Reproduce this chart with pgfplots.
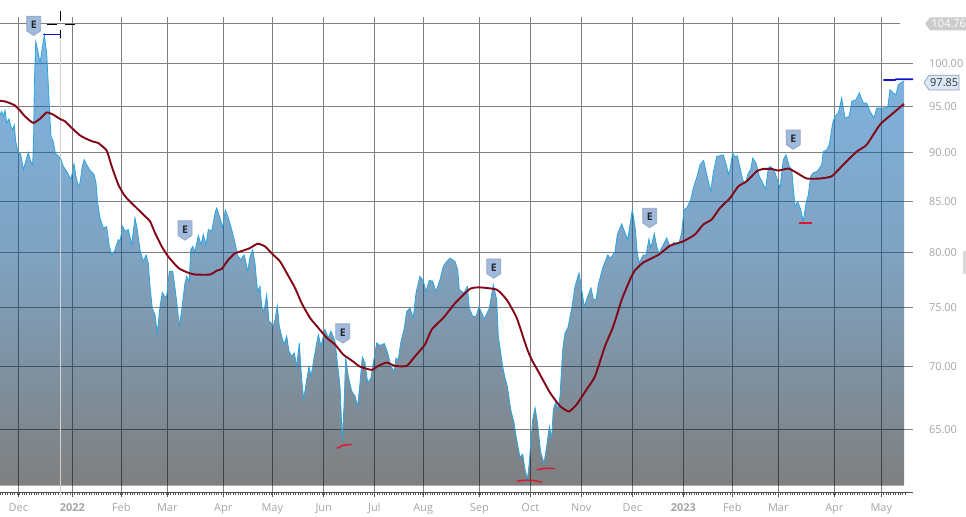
\documentclass[border=0pt]{standalone}
\usepackage{pgfplots}
\usepackage{pgfplotstable}
\usepackage{fontspec}
\setmainfont{Open Sans}
\pgfplotsset{compat=1.18}
\definecolor{gridc}{RGB}{128,128,128}
\definecolor{lab}{RGB}{165,165,165}
\definecolor{outl}{RGB}{42,165,224}
\definecolor{areatop}{RGB}{0,108,200}
\definecolor{areamid}{RGB}{0,70,130}
\definecolor{ma}{RGB}{130,6,22}
\definecolor{bl}{RGB}{16,16,205}
\definecolor{rd}{RGB}{225,20,45}
\definecolor{shf}{RGB}{160,186,222}
\definecolor{shd}{RGB}{150,165,185}
\definecolor{tagf}{RGB}{220,232,245}
\definecolor{tagd}{RGB}{135,160,190}
\pgfdeclareplotmark{shield}{%
  \pgfsetcornersarced{\pgfqpoint{2bp}{2bp}}%
  \pgfpathmoveto{\pgfqpoint{0bp}{-9.7bp}}%
  \pgfpathlineto{\pgfqpoint{-7bp}{-5bp}}%
  \pgfpathlineto{\pgfqpoint{-7bp}{9.7bp}}%
  \pgfpathlineto{\pgfqpoint{7bp}{9.7bp}}%
  \pgfpathlineto{\pgfqpoint{7bp}{-5bp}}%
  \pgfpathclose
  \pgfusepathqfillstroke
}
\pgfplotstableread[row sep=\\]{
x y\\
0 94.12\\ 1.7 94.48\\ 3.3 93.93\\ 5 94.59\\ 6.7 93.21\\ 9 93.65\\ 11 92.78\\ 12.7 92.48\\ 14.3 93.0\\ 15.7 91.21\\
18.3 89.95\\ 20.7 89.88\\ 23.3 88.23\\ 25.7 89.08\\ 28.3 90.01\\ 30.7 89.08\\ 32.7 88.74\\ 33.7 92.16\\ 34.3 97.32\\ 35.7 102.57\\
37.7 101.58\\ 40 100\\ 42.3 101.79\\ 44.3 103.37\\ 46.7 101.19\\ 48.7 96.56\\ 50 93.57\\ 51 91.75\\ 53.3 91.21\\ 55.3 89.95\\
58.3 89.67\\ 61 89.26\\ 63.3 88.57\\ 66.7 88.05\\ 69.3 87.54\\ 71 87.2\\ 74 88.85\\ 76 87.54\\ 78.3 86.51\\ 80 86.86\\
82.3 88.57\\ 84.3 89.26\\ 86.7 88.74\\ 90 88.16\\ 94 87.72\\ 96 86.86\\ 97.7 84.82\\ 100 83.36\\ 103.3 82.39\\ 106.7 82.49\\
109.3 80.6\\ 112 79.81\\ 115 80.28\\ 118.3 81.25\\ 120 81.08\\ 122.7 82.54\\ 125 82.05\\ 128.3 82.22\\ 131.7 80.77\\ 135 83.36\\
137.3 82.22\\ 140 80.28\\ 143.3 79.2\\ 146 79.81\\ 148.3 79.05\\ 150 76.92\\ 152.3 74.95\\ 155 74.38\\ 157.3 72.8\\ 160 75.09\\
162.3 76.37\\ 165 75.95\\ 166.7 76.0\\ 169.3 78.28\\ 172.7 78.28\\ 175 76.77\\ 177.3 75.09\\ 179.3 73.38\\ 181.7 74.8\\ 185 77.23\\
186.7 77.83\\ 189.3 77.37\\ 190.7 80.28\\ 192.7 80.6\\ 195 80.12\\ 198.3 81.63\\ 201 80.77\\ 203.3 81.73\\ 206 80.77\\ 208.3 82.22\\
211.7 82.05\\ 215 83.85\\ 216.7 84.33\\ 220 83.36\\ 222.7 82.39\\ 225.3 84.16\\ 228.3 83.36\\ 231.7 82.22\\ 235 80.93\\ 237.3 79.81\\
240.7 79.35\\ 244 79.81\\ 245 79.51\\ 247.7 78.28\\ 250 79.65\\ 252.7 80.28\\ 255 79.05\\ 256.7 77.23\\ 257.7 76.46\\ 260 76.92\\
261.7 75.09\\ 264 74.66\\ 266.7 76.16\\ 269 73.81\\ 271 73.67\\ 273.3 73.38\\ 275 73.95\\ 277.3 75.18\\ 279.3 73.38\\ 281.7 72.53\\
284 71.82\\ 286.7 72.53\\ 289 71.25\\ 291.7 70.82\\ 294.3 71.11\\ 296.7 69.97\\ 299.3 71.96\\ 301.7 68.91\\ 303.7 67.33\\ 306.7 68.91\\
309 69.97\\ 311 69.17\\ 314.3 70.82\\ 318.3 72.67\\ 321 71.67\\ 325 73.1\\ 328.3 72.39\\ 331 72.95\\ 335 72.1\\ 336.7 70.82\\
340 68.38\\ 342.3 64.21\\ 344 66.79\\ 345.7 70.68\\ 348.3 69.17\\ 351.7 67.98\\ 355 67.59\\ 357.7 66.79\\ 360 68.65\\ 362.3 70.77\\
365 70.26\\ 367.7 68.65\\ 371 69.05\\ 373.3 70.26\\ 376.7 71.96\\ 380 71.73\\ 384.3 71.9\\ 387.7 71.11\\ 391 69.97\\ 394.3 69.57\\
396 70.68\\ 398.3 70.54\\ 400.7 71.96\\ 404 73.1\\ 406.7 74.66\\ 410 74.95\\ 413.3 74.1\\ 416 76.31\\ 420 77.83\\ 423.3 77.37\\
426 76.46\\ 429.3 77.46\\ 432.7 77.37\\ 436 76.46\\ 440 77.53\\ 443.3 78.74\\ 446.7 79.2\\ 450 79.51\\ 455 79.2\\ 457.7 78.44\\
459.3 76.61\\ 464 76.31\\ 467.3 76.92\\ 469.3 74.95\\ 472.7 74.23\\ 476 74.23\\ 479 75.09\\ 481.7 74.52\\ 484.3 74.01\\ 489.3 74.95\\
493.3 77.07\\ 496.7 75.7\\ 498.3 72.53\\ 500.7 71.11\\ 502.7 69.97\\ 505 69.05\\ 507.3 68.38\\ 510.7 66.53\\ 514 65.48\\ 516.7 64.21\\
520 62.88\\ 522.7 63.12\\ 525 62.0\\ 527.3 61.27\\ 529.3 62.45\\ 530.7 63.97\\ 532.7 65.74\\ 535 66.67\\ 537.3 65.6\\ 540.7 63.24\\
544 62.45\\ 546.7 63.72\\ 549.3 65.21\\ 551.7 64.34\\ 553.3 66.53\\ 555.7 67.06\\ 558.3 66.53\\ 560 67.59\\ 562.7 71.39\\ 565 72.8\\
568 73.27\\ 571.7 74.95\\ 575 76.92\\ 579 78.14\\ 581.7 76.61\\ 584.3 75.09\\ 588.3 76.16\\ 591 76.77\\ 593.3 75.77\\ 596 75.7\\
598.3 77.07\\ 602.7 78.6\\ 607.7 79.81\\ 610.7 79.51\\ 615 80.12\\ 617.3 81.73\\ 621.7 82.77\\ 625 81.91\\ 627.7 81.25\\ 632.3 84.16\\
635 82.54\\ 637.3 79.96\\ 639.3 79.05\\ 643.3 79.81\\ 646 79.81\\ 649 81.32\\ 650.7 80.45\\ 654.3 81.83\\ 656.7 80.6\\ 659 79.96\\
663.3 80.77\\ 666.7 81.41\\ 670 80.6\\ 674 80.99\\ 678.3 80.67\\ 681.7 81.9\\ 684 84.16\\ 686.7 84.33\\ 690.7 85.14\\ 693.3 86.35\\
696.7 87.38\\ 700 88.74\\ 703.7 89.19\\ 706.7 87.72\\ 710.7 86.0\\ 713.3 87.9\\ 716.7 89.6\\ 723.3 89.77\\ 726.7 88.57\\ 728.3 87.72\\
730 88.23\\ 732.7 89.95\\ 735 89.54\\ 737.3 89.67\\ 740 88.4\\ 742.7 87.2\\ 745 86.69\\ 748.3 87.9\\ 750.7 88.23\\ 752.7 89.43\\
756 88.92\\ 759.3 87.54\\ 762.7 86.86\\ 765.7 86.24\\ 768.3 88.4\\ 770.7 88.57\\ 775 87.9\\ 780 86.35\\ 783.3 89.26\\ 786 89.77\\
789.3 88.57\\ 791.7 88.23\\ 793.3 86.35\\ 795 84.49\\ 797.7 84.97\\ 800.7 84.16\\ 803.3 83.03\\ 806 84.82\\ 808.3 85.66\\ 810.7 87.54\\
813.3 87.9\\ 817.3 88.05\\ 821.7 88.74\\ 823.3 90.12\\ 826.7 90.3\\ 829.3 90.85\\ 832.7 93.22\\ 835 93.94\\ 838.3 94.31\\ 841.7 95.99\\
845 93.77\\ 849.3 93.94\\ 851.7 95.6\\ 856 95.79\\ 859.3 96.56\\ 863.3 95.41\\ 866.7 95.41\\ 870 94.48\\ 874 93.77\\ 876.7 94.85\\
880 94.85\\ 887.7 94.91\\ 890 96.94\\ 893.3 96.56\\ 896 96.36\\ 898.3 97.51\\ 903.3 97.89\\ 904 97.85\\
}\pricedata
\pgfplotstableread[row sep=\\]{
x y\\
0 95.68\\ 5 95.6\\ 10 95.41\\ 15 95.14\\ 20 94.59\\ 25 93.93\\ 33.3 93.21\\ 40 93.68\\ 46.7 94.37\\ 53.3 94.12\\
60 93.65\\ 65 93.39\\ 71.7 92.67\\ 80 91.86\\ 86 91.5\\ 93.3 91.18\\ 98.3 91.03\\ 106.7 90.23\\ 111.7 88.57\\ 118.3 86.69\\
124 85.66\\ 128.3 85.14\\ 135 84.49\\ 143.3 83.68\\ 150 83.02\\ 155 81.9\\ 161.7 80.6\\ 168.3 79.65\\ 178.3 78.6\\ 186.7 78.2\\
195 77.99\\ 210 77.99\\ 216.7 78.35\\ 221.7 78.5\\ 228.3 79.35\\ 235 79.96\\ 243.3 80.21\\ 250 80.45\\ 257.7 80.86\\ 265 80.6\\
271.7 79.96\\ 280 79.2\\ 286.7 78.14\\ 295 76.77\\ 301.7 75.4\\ 310 74.1\\ 318.3 73.24\\ 326.7 72.39\\ 335 71.82\\ 343.3 70.96\\
351.7 70.48\\ 360 69.97\\ 371.7 69.7\\ 378.3 70.03\\ 386.7 70.31\\ 395 70.03\\ 406.7 70.03\\ 415 70.82\\ 425 71.82\\ 431.7 73.1\\
443.3 74.1\\ 455 75.4\\ 470 76.68\\ 480 76.82\\ 496.7 76.61\\ 506.7 75.7\\ 516.7 74.1\\ 526.7 71.54\\ 531.7 70.54\\ 538.3 69.57\\
550 67.86\\ 560 66.79\\ 569 66.37\\ 576.7 66.93\\ 586.7 68.12\\ 595 69.17\\ 605 71.67\\ 613.3 73.38\\ 621.7 75.7\\ 630 77.53\\
635 78.38\\ 643.3 79.1\\ 658.3 79.81\\ 670 80.67\\ 683.3 81.09\\ 695 81.74\\ 703.3 82.71\\ 711.7 83.2\\ 720 84.33\\ 730 85.32\\
738.3 86.51\\ 746.7 87.03\\ 756.7 88.06\\ 763.3 88.3\\ 771.7 88.3\\ 778.3 88.13\\ 788.3 88.34\\ 796.7 87.9\\ 806.7 87.31\\ 820 87.31\\
831.7 87.54\\ 843.3 88.74\\ 856.7 90.12\\ 866.7 90.85\\ 880 93.03\\ 893.3 94.31\\ 904 95.33\\
}\madata
\begin{document}
\begin{tikzpicture}
\useasboundingbox (0,0) rectangle (966bp,517bp);
\begin{axis}[
  at={(0bp,24.7bp)}, anchor=south west,
  scale only axis, width=913bp, height=475.3bp,
  xmin=0, xmax=913, ymode=log, ymin=60.35, ymax=105.60,
  clip=false,
  axis x line*=bottom, axis y line*=right,
  x axis line style={-, color=black!70, line width=.8bp},
  y axis line style={draw=none},
  xtick={18.3,72.3,121.3,167.3,223.3,272.3,323.7,374.3,423.3,479.3,530.3,581.3,632.3,683.3,732.3,778.3,834.3,881.3},
  xticklabels={Dec,\textbf{2022},Feb,Mar,Apr,May,Jun,Jul,Aug,Sep,Oct,Nov,Dec,\textbf{2023},Feb,Mar,Apr,May},
  minor xtick={0.3,2.7,...,904},
  ytick={65,70,75,80,85,90,95,100},
  yticklabels={65.00,70.00,75.00,80.00,85.00,90.00,95.00,100.00},
  xmajorgrids, ymajorgrids,
  major grid style={color=gridc, line width=.75bp},
  tick align=outside,
  major tick length=5bp, minor tick length=3bp,
  x tick style={color=black!65, line width=.5bp},
  y tick style={draw=none},
  y tick label style={anchor=west, inner sep=0pt, outer sep=0pt, xshift=11bp, font=\fontsize{11}{13}\selectfont, text=lab},
  x tick label style={anchor=base, inner sep=0pt, outer sep=0pt, yshift=-14.5bp, font=\fontsize{11}{13}\selectfont, text=lab},
]
% top guide line at the high of the window
\addplot[gridc, line width=.75bp, forget plot] coordinates {(0,104.76)(900,104.76)};
% area
\addplot[draw=none, shade, top color=areatop, bottom color=black, middle color=areamid, fill opacity=.5, forget plot]
  table[x=x,y=y] {\pricedata} -- (axis cs:904,60.83) -- (axis cs:0,60.83) -- cycle;
% cursor
\addplot[color=black!18, line width=.8bp, forget plot] coordinates {(60.5,103.05)(60.5,60.0)};
\addplot[black, line width=.7bp, forget plot] coordinates {(60.5,106.3)(60.5,105.13)};
\addplot[black, line width=.7bp, forget plot] coordinates {(46.7,104.7)(56.7,104.7)};
\addplot[black, line width=.7bp, forget plot] coordinates {(65,104.7)(75,104.7)};
\addplot[black, line width=.7bp, forget plot] coordinates {(60.5,104.0)(60.5,103.05)};
% price outline
\addplot[outl, line width=.8bp, forget plot] table[x=x,y=y] {\pricedata};
% moving average
\addplot[ma, line width=1.9bp, smooth, tension=.3, forget plot] table[x=x,y=y] {\madata};
% highs
\addplot[bl, line width=1.7bp, forget plot] coordinates {(43.3,103.45)(60.7,103.45)};
\addplot[bl, line width=1.7bp, forget plot] coordinates {(883.3,98.05)(895,98.05)(896,98.12)(913,98.12)};
% lows
\addplot[rd, line width=1.4bp, forget plot] coordinates {(336.7,63.55)(343.3,63.78)(351.7,63.85)};
\addplot[rd, line width=1.4bp, forget plot] coordinates {(516.7,61.15)(526.7,61.22)(533.3,61.2)(541.7,61.07)};
\addplot[rd, line width=1.4bp, forget plot] coordinates {(536.7,61.96)(545,62.08)(555,62.06)};
\addplot[rd, line width=1.4bp, forget plot] coordinates {(799,82.87)(811.7,82.87)};
% earnings markers
\addplot[only marks, mark=shield, mark options={fill=shf, draw=shd, line width=.7bp},
  nodes near coords={E},
  every node near coord/.append style={anchor=center, inner sep=0pt, outer sep=0pt, yshift=1bp,
    font=\fontsize{10.5}{11}\selectfont\bfseries, text=black!85},
  forget plot]
  coordinates {(33.7,104.49)(185,82.13)(342.8,72.76)(493.8,78.53)(649.7,83.34)(793.2,91.39)};
% price tags
\fill[black!20] (axis cs:925,104.76) -- (axis cs:930,105.55) -- (axis cs:970,105.55) -- (axis cs:970,103.95) -- (axis cs:930,103.95) -- cycle;
\node[anchor=west, inner sep=0pt, text=white, font=\fontsize{11}{13}\selectfont] at (axis cs:931.5,104.76) {104.76};
\filldraw[fill=tagf, draw=tagd, line width=.7bp] (axis cs:924,97.72) -- (axis cs:929,98.6) -- (axis cs:959,98.6) -- (axis cs:959,96.9) -- (axis cs:929,96.9) -- cycle;
\node[anchor=west, inner sep=0pt, text=black!80, font=\fontsize{11}{13}\selectfont] at (axis cs:930,97.72) {97.85};
\fill[black!15] (axis cs:963,80.2) rectangle (axis cs:970,78.0);
\end{axis}
\end{tikzpicture}
\end{document}
